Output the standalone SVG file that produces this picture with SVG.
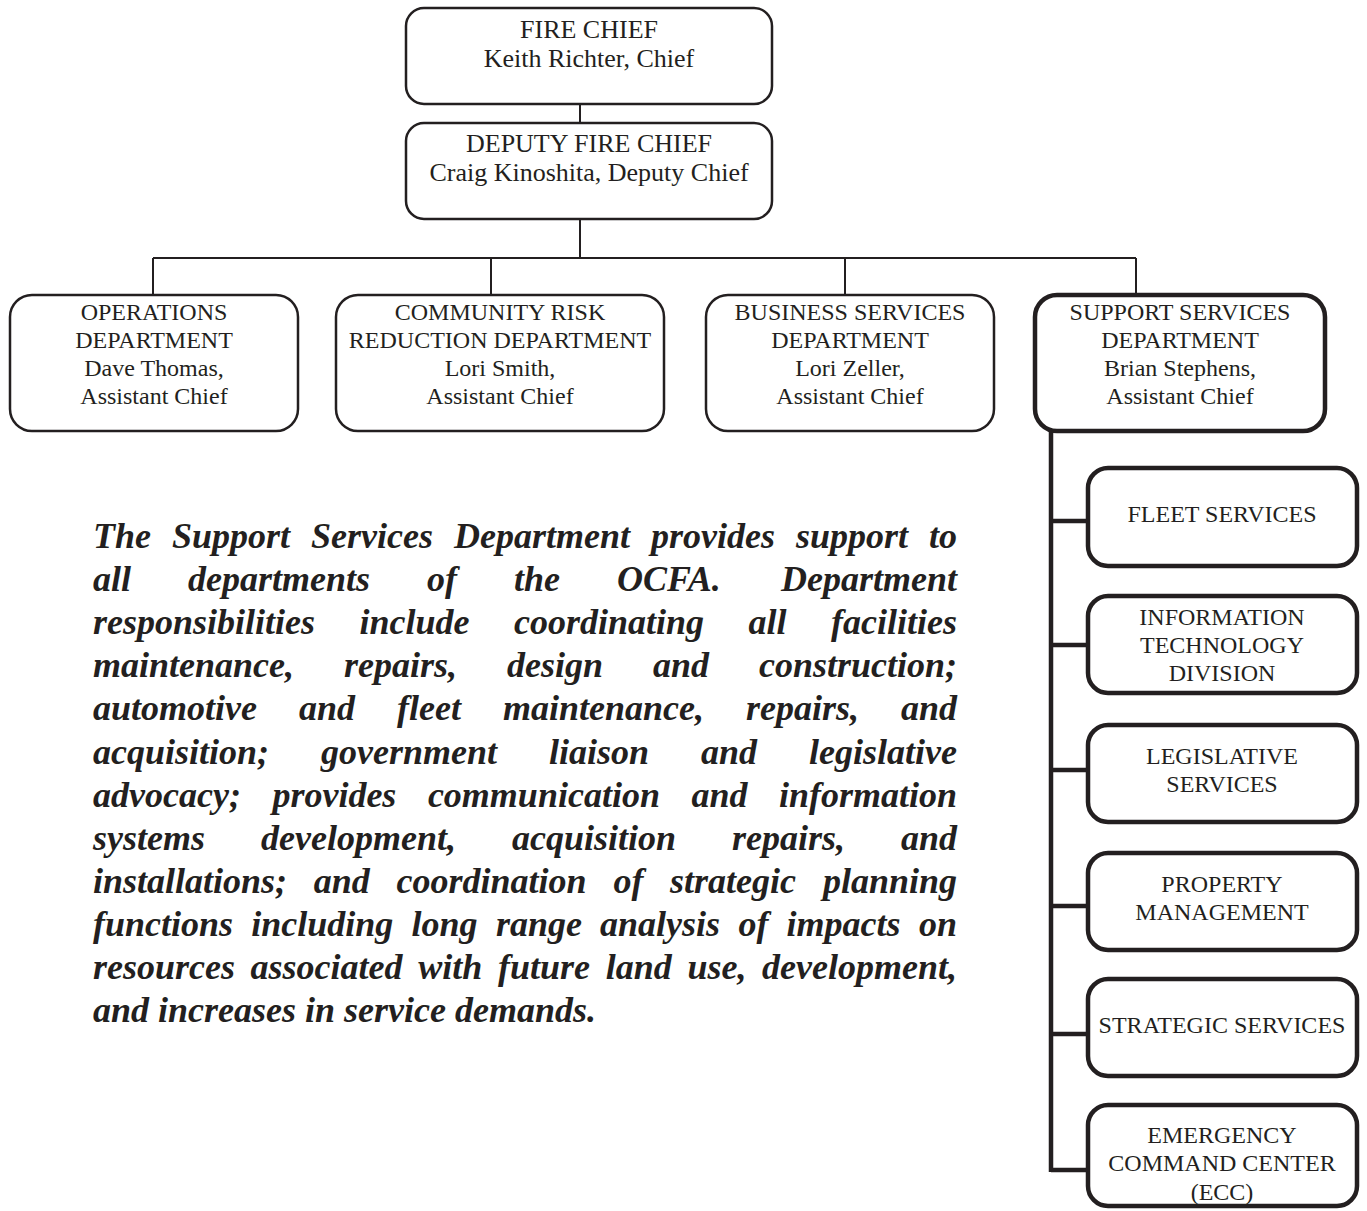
<svg xmlns="http://www.w3.org/2000/svg" width="1367" height="1211" viewBox="0 0 1367 1211">
<style>
.box{fill:#fff;stroke:#231f20;stroke-width:2.5}
.thick{stroke-width:4.5}
.lbl{font-family:"Liberation Serif","Times New Roman",serif;font-size:24px;fill:#231f20;text-anchor:middle}
.top{font-size:26px}
.para{font-family:"Liberation Serif","Times New Roman",serif;font-size:36px;font-weight:bold;font-style:italic;fill:#231f20}
.conn{stroke:#231f20;stroke-width:2;fill:none}
.conn.heavy{stroke-width:4.5}
</style>
<rect width="1367" height="1211" fill="#fff"/>
<g id="connectors">
<path class="conn" d="M580 104V123M580 219V258M153 258H1136M153 258V295M491 258V295M845 258V295M1136 258V295"/>
<path class="conn heavy" d="M1051 431V1172M1051 521H1088M1051 645H1088M1051 770H1088M1051 906H1088M1051 1034H1088M1051 1170H1088"/>
</g>
<g id="fire-chief">
<rect class="box" x="406" y="8" width="366" height="96" rx="18"/>
<text class="lbl top" x="589" y="38">FIRE CHIEF</text>
<text class="lbl top" x="589" y="67">Keith Richter, Chief</text>
</g>
<g id="deputy-fire-chief">
<rect class="box" x="406" y="123" width="366" height="96" rx="18"/>
<text class="lbl top" x="589" y="152">DEPUTY FIRE CHIEF</text>
<text class="lbl top" x="589" y="181">Craig Kinoshita, Deputy Chief</text>
</g>
<g id="operations">
<rect class="box" x="10" y="295" width="288" height="136" rx="22"/>
<text class="lbl" x="154" y="320">OPERATIONS</text>
<text class="lbl" x="154" y="348">DEPARTMENT</text>
<text class="lbl" x="154" y="376">Dave Thomas,</text>
<text class="lbl" x="154" y="404">Assistant Chief</text>
</g>
<g id="community-risk">
<rect class="box" x="336" y="295" width="328" height="136" rx="22"/>
<text class="lbl" x="500" y="320">COMMUNITY RISK</text>
<text class="lbl" x="500" y="348">REDUCTION DEPARTMENT</text>
<text class="lbl" x="500" y="376">Lori Smith,</text>
<text class="lbl" x="500" y="404">Assistant Chief</text>
</g>
<g id="business-services">
<rect class="box" x="706" y="295" width="288" height="136" rx="22"/>
<text class="lbl" x="850" y="320">BUSINESS SERVICES</text>
<text class="lbl" x="850" y="348">DEPARTMENT</text>
<text class="lbl" x="850" y="376">Lori Zeller,</text>
<text class="lbl" x="850" y="404">Assistant Chief</text>
</g>
<g id="support-services">
<rect class="box thick" x="1035" y="295" width="290" height="136" rx="22"/>
<text class="lbl" x="1180" y="320">SUPPORT SERVICES</text>
<text class="lbl" x="1180" y="348">DEPARTMENT</text>
<text class="lbl" x="1180" y="376">Brian Stephens,</text>
<text class="lbl" x="1180" y="404">Assistant Chief</text>
</g>
<g id="fleet-services">
<rect class="box thick" x="1088" y="468" width="269" height="98" rx="20"/>
<text class="lbl" x="1222" y="522">FLEET SERVICES</text>
</g>
<g id="information-technology">
<rect class="box thick" x="1088" y="596" width="269" height="97" rx="20"/>
<text class="lbl" x="1222" y="625">INFORMATION</text>
<text class="lbl" x="1222" y="653">TECHNOLOGY</text>
<text class="lbl" x="1222" y="681">DIVISION</text>
</g>
<g id="legislative-services">
<rect class="box thick" x="1088" y="725" width="269" height="97" rx="20"/>
<text class="lbl" x="1222" y="764">LEGISLATIVE</text>
<text class="lbl" x="1222" y="792">SERVICES</text>
</g>
<g id="property-management">
<rect class="box thick" x="1088" y="853" width="269" height="97" rx="20"/>
<text class="lbl" x="1222" y="892">PROPERTY</text>
<text class="lbl" x="1222" y="920">MANAGEMENT</text>
</g>
<g id="strategic-services">
<rect class="box thick" x="1088" y="979" width="269" height="97" rx="20"/>
<text class="lbl" x="1222" y="1033">STRATEGIC SERVICES</text>
</g>
<g id="emergency-command-center">
<rect class="box thick" x="1088" y="1105" width="269" height="101" rx="20"/>
<text class="lbl" x="1222" y="1143">EMERGENCY</text>
<text class="lbl" x="1222" y="1171">COMMAND CENTER</text>
<text class="lbl" x="1222" y="1200">(ECC)</text>
</g>
<g id="description">
<text class="para" y="548"><tspan x="93">The</tspan><tspan x="172">Support</tspan><tspan x="311">Services</tspan><tspan x="454">Department</tspan><tspan x="651">provides</tspan><tspan x="796">support</tspan><tspan x="929">to</tspan></text>
<text class="para" y="591"><tspan x="93">all</tspan><tspan x="188">departments</tspan><tspan x="427">of</tspan><tspan x="514">the</tspan><tspan x="617">OCFA.</tspan><tspan x="781">Department</tspan></text>
<text class="para" y="634"><tspan x="93">responsibilities</tspan><tspan x="359.5">include</tspan><tspan x="514">coordinating</tspan><tspan x="748.5">all</tspan><tspan x="831">facilities</tspan></text>
<text class="para" y="677"><tspan x="93">maintenance,</tspan><tspan x="344">repairs,</tspan><tspan x="507">design</tspan><tspan x="653">and</tspan><tspan x="759">construction;</tspan></text>
<text class="para" y="720"><tspan x="93">automotive</tspan><tspan x="299">and</tspan><tspan x="397">fleet</tspan><tspan x="503">maintenance,</tspan><tspan x="746">repairs,</tspan><tspan x="901">and</tspan></text>
<text class="para" y="763.5"><tspan x="93">acquisition;</tspan><tspan x="321">government</tspan><tspan x="549">liaison</tspan><tspan x="701">and</tspan><tspan x="809">legislative</tspan></text>
<text class="para" y="806.6"><tspan x="93">advocacy;</tspan><tspan x="272.4">provides</tspan><tspan x="427.9">communication</tspan><tspan x="691.5">and</tspan><tspan x="779">information</tspan></text>
<text class="para" y="849.7"><tspan x="93">systems</tspan><tspan x="261">development,</tspan><tspan x="512">acquisition</tspan><tspan x="732">repairs,</tspan><tspan x="901">and</tspan></text>
<text class="para" y="892.8"><tspan x="93">installations;</tspan><tspan x="313.8">and</tspan><tspan x="396.6">coordination</tspan><tspan x="613.4">of</tspan><tspan x="670.1">strategic</tspan><tspan x="822.9">planning</tspan></text>
<text class="para" y="935.9"><tspan x="93">functions</tspan><tspan x="251.3">including</tspan><tspan x="411.6">long</tspan><tspan x="495.9">range</tspan><tspan x="600.1">analysis</tspan><tspan x="738.4">of</tspan><tspan x="786.6">impacts</tspan><tspan x="918.9">on</tspan></text>
<text class="para" y="979"><tspan x="93">resources</tspan><tspan x="250.6">associated</tspan><tspan x="418.3">with</tspan><tspan x="498">future</tspan><tspan x="605.7">land</tspan><tspan x="687.4">use,</tspan><tspan x="762">development,</tspan></text>
<text class="para" x="93" y="1022">and increases in service demands.</text>
</g>
</svg>
